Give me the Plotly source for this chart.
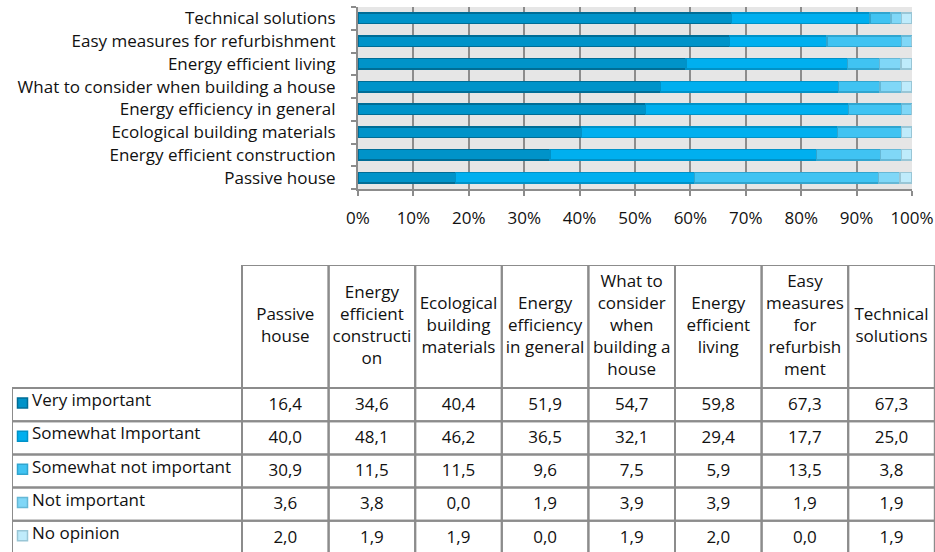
import plotly.graph_objects as go

# Survey topics (bottom to top on the bar chart, left to right in the table)
categories = [
    "Passive house",
    "Energy efficient construction",
    "Ecological building materials",
    "Energy efficiency in general",
    "What to consider when building a house",
    "Energy efficient living",
    "Easy measures for refurbishment",
    "Technical solutions",
]
table_headers = [
    "Passive<br>house",
    "Energy<br>efficient<br>constructi<br>on",
    "Ecological<br>building<br>materials",
    "Energy<br>efficiency<br>in general",
    "What to<br>consider<br>when<br>building a<br>house",
    "Energy<br>efficient<br>living",
    "Easy<br>measures<br>for<br>refurbish<br>ment",
    "Technical<br>solutions",
]

series_names = [
    "Very important",
    "Somewhat Important",
    "Somewhat not important",
    "Not important",
    "No opinion",
]
very_important = [16.4, 34.6, 40.4, 51.9, 54.7, 59.8, 67.3, 67.3]
somewhat_important = [40.0, 48.1, 46.2, 36.5, 32.1, 29.4, 17.7, 25.0]
somewhat_not_important = [30.9, 11.5, 11.5, 9.6, 7.5, 5.9, 13.5, 3.8]
not_important = [3.6, 3.8, 0.0, 1.9, 3.9, 3.9, 1.9, 1.9]
no_opinion = [2.0, 1.9, 1.9, 0.0, 1.9, 2.0, 0.0, 1.9]
series_values = [very_important, somewhat_important, somewhat_not_important,
                 not_important, no_opinion]

fill_colors = ["#0093C9", "#00AFEF", "#40C3F2", "#80D7F7", "#BFEBFB"]
edge_colors = ["#006D96", "#0092C8", "#30A5CF", "#66B8D6", "#99C6D6"]

FONT = "Open Sans"
FS = 17
TEXT = "#111111"
GRID = "#8C8C8C"

W, H = 935, 552
fig = go.Figure()

# ---- 100% stacked horizontal bars ----
for name, vals, fc, ec in zip(series_names, series_values, fill_colors, edge_colors):
    fig.add_trace(go.Bar(
        y=categories, x=vals, name=name, orientation="h",
        marker=dict(color=fc, line=dict(color=ec, width=1.3)),
        xaxis="x", yaxis="y", showlegend=False, hoverinfo="skip",
    ))

# ---- data table drawn on its own hidden axes ----
# x2 units: one data column; y2 units: one data row (y grows downward)
col_px = 86.6
row_px = 33.2
label_col = 230 / col_px
header_h = 123 / row_px
table_left_px = 12
table_top_px = 265
n_cols = len(categories)
n_rows = len(series_names)

x2_range = [-label_col, -label_col + (W - table_left_px) / col_px]
y2_span = (H - table_top_px) / row_px

shapes = []
# gray background behind the bars (under the gridlines)
shapes.append(dict(type="rect", xref="x domain", yref="y domain", x0=0, x1=1, y0=0, y1=1,
                   fillcolor="#E6E6E6", line=dict(width=0), layer="below"))

line_style = dict(color=GRID, width=2)
# header cells
for c in range(n_cols):
    shapes.append(dict(type="rect", xref="x2", yref="y2", x0=c, x1=c + 1, y0=0, y1=header_h,
                       line=line_style, fillcolor="rgba(0,0,0,0)"))
# body cells including the row-label column
for r in range(n_rows):
    y0 = header_h + r
    shapes.append(dict(type="rect", xref="x2", yref="y2", x0=-label_col, x1=0, y0=y0, y1=y0 + 1,
                       line=line_style, fillcolor="rgba(0,0,0,0)"))
    for c in range(n_cols):
        shapes.append(dict(type="rect", xref="x2", yref="y2", x0=c, x1=c + 1, y0=y0, y1=y0 + 1,
                           line=line_style, fillcolor="rgba(0,0,0,0)"))

row_centers = [header_h + r + 0.5 for r in range(n_rows)]
col_centers = [c + 0.5 for c in range(n_cols)]

# header text
fig.add_trace(go.Scatter(
    x=col_centers, y=[header_h / 2] * n_cols, text=table_headers, mode="text",
    textposition="middle center", textfont=dict(family=FONT, size=FS, color=TEXT),
    xaxis="x2", yaxis="y2", showlegend=False, hoverinfo="skip", cliponaxis=False,
))

# legend swatches in the row-label column
swatch_x = -label_col + 10.5 / col_px
fig.add_trace(go.Scatter(
    x=[swatch_x] * n_rows, y=[y - 0.05 for y in row_centers], mode="markers",
    marker=dict(symbol="square", size=10, color=fill_colors,
                line=dict(color=edge_colors, width=1.5)),
    xaxis="x2", yaxis="y2", showlegend=False, hoverinfo="skip", cliponaxis=False,
))
# row labels
fig.add_trace(go.Scatter(
    x=[-label_col + 20 / col_px] * n_rows, y=[y - 0.08 for y in row_centers],
    text=series_names, mode="text", textposition="middle right",
    textfont=dict(family=FONT, size=FS, color=TEXT),
    xaxis="x2", yaxis="y2", showlegend=False, hoverinfo="skip", cliponaxis=False,
))
# cell values with decimal comma
for r, vals in enumerate(series_values):
    fig.add_trace(go.Scatter(
        x=col_centers, y=[row_centers[r] + 0.03] * n_cols,
        text=[f"{v:.1f}".replace(".", ",") for v in vals], mode="text",
        textposition="middle center", textfont=dict(family=FONT, size=FS, color=TEXT),
        xaxis="x2", yaxis="y2", showlegend=False, hoverinfo="skip", cliponaxis=False,
    ))

fig.update_layout(
    width=W, height=H, autosize=False,
    margin=dict(l=0, r=0, t=0, b=0),
    paper_bgcolor="white", plot_bgcolor="rgba(0,0,0,0)",
    barmode="stack", barnorm="percent", bargap=0.54,
    font=dict(family=FONT, size=FS, color=TEXT),
    shapes=shapes,
    xaxis=dict(
        domain=[358 / W, 912 / W], anchor="y", range=[0, 100], dtick=10, ticksuffix="%",
        showgrid=True, gridcolor=GRID, gridwidth=2, zeroline=False,
        showline=True, linecolor=GRID, linewidth=2,
        ticks="outside", ticklen=5, tickwidth=2, tickcolor=GRID,
        ticklabelstandoff=8, tickfont=dict(family=FONT, size=FS, color=TEXT),
        automargin=False, fixedrange=True,
    ),
    yaxis=dict(
        domain=[1 - 189 / H, 1 - 7 / H], anchor="x", type="category",
        showgrid=False, zeroline=False, showline=True, linecolor=GRID, linewidth=2,
        ticks="outside", ticklen=5, tickwidth=2, tickcolor=GRID, tickson="boundaries",
        ticklabelstandoff=17, tickfont=dict(family=FONT, size=FS, color=TEXT),
        automargin=False, fixedrange=True,
    ),
    xaxis2=dict(domain=[table_left_px / W, 1], anchor="y2", range=x2_range, visible=False,
                fixedrange=True),
    yaxis2=dict(domain=[0, (H - table_top_px) / H], anchor="x2", range=[y2_span, 0],
                visible=False, fixedrange=True),
)

fig.write_html(
    "out.html",
    config={"responsive": False, "displayModeBar": False},
    post_script="document.body.style.margin='0';document.body.style.overflow='hidden';",
)
